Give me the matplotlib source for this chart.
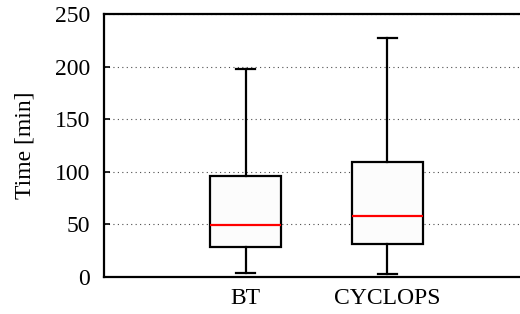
import numpy as np
import matplotlib.pyplot as plt

labels = ["BT", "CYCLOPS"]
whislo = [3.5, 2.9]
q1 = [28.5, 31.1]
med = [49.1, 57.7]
q3 = [96.3, 109.6]
whishi = [197.4, 226.9]

stats = []
for i in range(len(labels)):
    stats.append({"label": labels[i], "whislo": whislo[i], "q1": q1[i],
                  "med": med[i], "q3": q3[i], "whishi": whishi[i], "fliers": []})

plt.rcParams["font.family"] = ["Liberation Serif", "DejaVu Serif"]
plt.rcParams["font.size"] = 17

fig = plt.figure(figsize=(5.2, 3.14), dpi=100)
ax = fig.add_axes([104/520, 1 - 277/314, 416/520, (277 - 14)/314])

ax.bxp(stats, positions=[1, 2], widths=0.5, capwidths=0.134, patch_artist=True,
       boxprops=dict(facecolor="#fcfcfc", edgecolor="black", linewidth=1.6),
       whiskerprops=dict(color="black", linewidth=1.6),
       capprops=dict(color="black", linewidth=1.6),
       medianprops=dict(color="red", linewidth=1.6),
       zorder=3)

ax.set_xlim(0, 416/141.6)
ax.set_ylim(0, 250)
ax.set_yticks([0, 50, 100, 150, 200, 250])
ax.yaxis.grid(True, linestyle=(0, (1, 3)), color="0.3", linewidth=0.8, zorder=0)
ax.set_axisbelow(True)

for s in ["left", "top", "bottom"]:
    ax.spines[s].set_linewidth(1.6)
ax.spines["right"].set_visible(False)

ax.tick_params(axis="y", direction="in", length=4, width=1.2, pad=10)
ax.tick_params(axis="x", length=0, pad=8)
ax.set_ylabel("Time [min]", labelpad=14)

fig.savefig("out.png", dpi=100)
